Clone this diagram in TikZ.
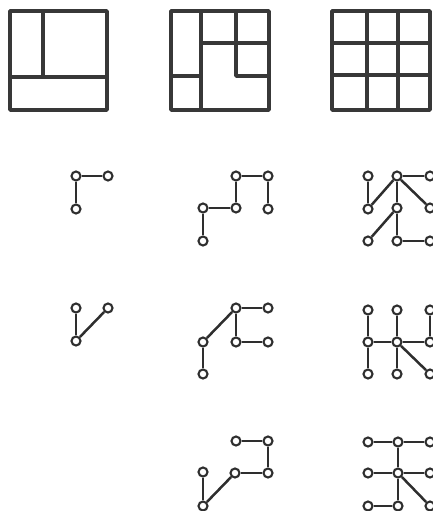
\documentclass[tikz,border=0pt]{standalone}
\begin{document}
\begin{tikzpicture}[x=1pt,y=-1pt,
  wall/.style={line width=3.4pt,draw=black!78,line join=round,line cap=round},
  vtx/.style={circle,draw=black!82,fill=white,line width=2.1pt,inner sep=0pt,minimum size=9pt},
  link/.style={line width=2.5pt,draw=black!82}]
\useasboundingbox (0,0) rectangle (433,511);
% --- floor plans ---
\draw[wall] (10,11) rectangle (107,110);
\draw[wall] (43,11) -- (43,77);
\draw[wall] (10,77) -- (107,77);
\draw[wall] (171,11) rectangle (269,110);
\draw[wall] (201,11) -- (201,110);
\draw[wall] (171,76) -- (201,76);
\draw[wall] (201,43) -- (269,43);
\draw[wall] (236,11) -- (236,76) -- (269,76);
\draw[wall] (332,11) rectangle (430,110);
\draw[wall] (367,11) -- (367,110);
\draw[wall] (398,11) -- (398,110);
\draw[wall] (332,43) -- (430,43);
\draw[wall] (332,75) -- (430,75);
% --- row 2 ---
\node[vtx] (a1) at (76,176) {};
\node[vtx] (a2) at (108,176) {};
\node[vtx] (a3) at (76,209) {};
\draw[link] (a1) -- (a2); \draw[link] (a1) -- (a3);
\node[vtx] (b1) at (236,176) {};
\node[vtx] (b2) at (268,176) {};
\node[vtx] (b3) at (236,208) {};
\node[vtx] (b4) at (203,208) {};
\node[vtx] (b5) at (203,241) {};
\node[vtx] (b6) at (268,209) {};
\draw[link] (b1) -- (b2); \draw[link] (b1) -- (b3); \draw[link] (b3) -- (b4);
\draw[link] (b4) -- (b5); \draw[link] (b2) -- (b6);
\node[vtx] (c11) at (368,176) {};
\node[vtx] (c12) at (397,176) {};
\node[vtx] (c13) at (430,176) {};
\node[vtx] (c21) at (368,209) {};
\node[vtx] (c22) at (397,208) {};
\node[vtx] (c23) at (430,208) {};
\node[vtx] (c31) at (368,241) {};
\node[vtx] (c32) at (397,241) {};
\node[vtx] (c33) at (430,241) {};
\draw[link] (c11) -- (c21); \draw[link] (c21) -- (c12); \draw[link] (c12) -- (c13);
\draw[link] (c12) -- (c22); \draw[link] (c12) -- (c23); \draw[link] (c22) -- (c31);
\draw[link] (c22) -- (c32); \draw[link] (c32) -- (c33);
% --- row 3 ---
\node[vtx] (d1) at (76,308) {};
\node[vtx] (d2) at (108,308) {};
\node[vtx] (d3) at (76,341) {};
\draw[link] (d1) -- (d3); \draw[link] (d3) -- (d2);
\node[vtx] (e1) at (236,308) {};
\node[vtx] (e2) at (268,308) {};
\node[vtx] (e3) at (236,342) {};
\node[vtx] (e4) at (268,342) {};
\node[vtx] (e5) at (203,342) {};
\node[vtx] (e6) at (203,374) {};
\draw[link] (e1) -- (e2); \draw[link] (e1) -- (e3); \draw[link] (e3) -- (e4);
\draw[link] (e1) -- (e5); \draw[link] (e5) -- (e6);
\node[vtx] (f11) at (368,310) {};
\node[vtx] (f12) at (397,310) {};
\node[vtx] (f13) at (430,310) {};
\node[vtx] (f21) at (368,342) {};
\node[vtx] (f22) at (397,342) {};
\node[vtx] (f23) at (430,342) {};
\node[vtx] (f31) at (368,374) {};
\node[vtx] (f32) at (397,374) {};
\node[vtx] (f33) at (430,374) {};
\draw[link] (f11) -- (f21); \draw[link] (f12) -- (f22); \draw[link] (f13) -- (f23);
\draw[link] (f21) -- (f22); \draw[link] (f22) -- (f23); \draw[link] (f21) -- (f31);
\draw[link] (f22) -- (f32); \draw[link] (f22) -- (f33);
% --- row 4 ---
\node[vtx] (g1) at (236,441) {};
\node[vtx] (g2) at (268,441) {};
\node[vtx] (g3) at (268,473) {};
\node[vtx] (g4) at (235,473) {};
\node[vtx] (g5) at (203,472) {};
\node[vtx] (g6) at (203,506) {};
\draw[link] (g1) -- (g2); \draw[link] (g2) -- (g3); \draw[link] (g3) -- (g4);
\draw[link] (g4) -- (g6); \draw[link] (g5) -- (g6);
\node[vtx] (h11) at (368,442) {};
\node[vtx] (h12) at (398,442) {};
\node[vtx] (h13) at (430,442) {};
\node[vtx] (h21) at (368,473) {};
\node[vtx] (h22) at (398,473) {};
\node[vtx] (h23) at (430,473) {};
\node[vtx] (h31) at (368,506) {};
\node[vtx] (h32) at (398,506) {};
\node[vtx] (h33) at (430,506) {};
\draw[link] (h11) -- (h12); \draw[link] (h12) -- (h13); \draw[link] (h12) -- (h22);
\draw[link] (h21) -- (h22); \draw[link] (h22) -- (h23); \draw[link] (h22) -- (h32);
\draw[link] (h22) -- (h33); \draw[link] (h31) -- (h32);
\end{tikzpicture}
\end{document}
